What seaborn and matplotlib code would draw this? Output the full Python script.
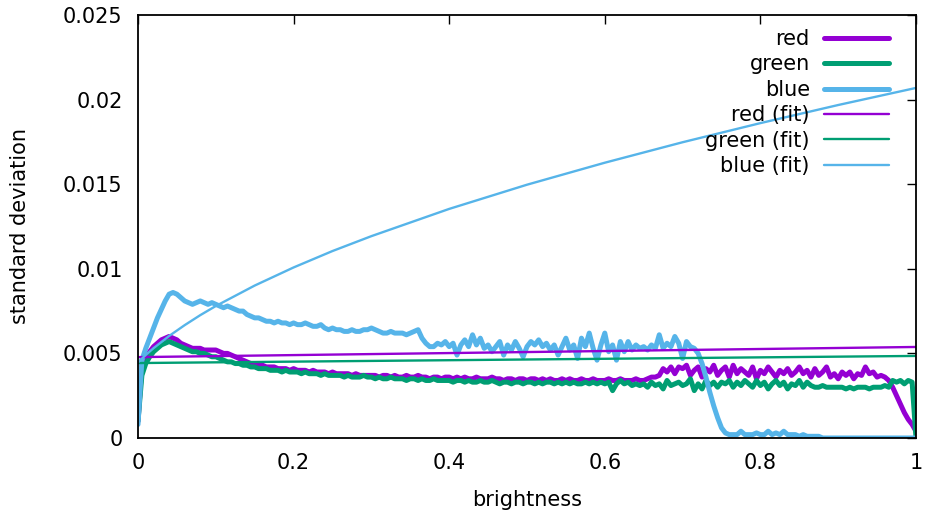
import numpy as np
import pandas as pd
import matplotlib
matplotlib.use("Agg")
import matplotlib.pyplot as plt
import seaborn as sns
from matplotlib.ticker import FuncFormatter, MultipleLocator

# ---------------- data ----------------
brightness = np.round(np.arange(201) * 0.005, 3)

red = [
    0.0010, 0.0043, 0.0048, 0.0051, 0.0054, 0.0056, 0.0058, 0.0059, 0.0060, 0.0059,
    0.0058, 0.0056, 0.0055, 0.0054, 0.0053, 0.0053, 0.0053, 0.0052, 0.0052, 0.0052,
    0.0052, 0.0051, 0.0050, 0.0050, 0.0049, 0.0048, 0.0047, 0.0046, 0.0045, 0.0044,
    0.0044, 0.0043, 0.0043, 0.0042, 0.0042, 0.0042, 0.0041, 0.0041, 0.0041, 0.0040,
    0.0041, 0.0040, 0.0040, 0.0040, 0.0039, 0.0040, 0.0039, 0.0039, 0.0039, 0.0038,
    0.0039, 0.0038, 0.0038, 0.0038, 0.0038, 0.0037, 0.0038, 0.0037, 0.0037, 0.0037,
    0.0037, 0.0037, 0.0036, 0.0037, 0.0037, 0.0036, 0.0037, 0.0036, 0.0036, 0.0037,
    0.0036, 0.0036, 0.0037, 0.0036, 0.0036, 0.0035, 0.0036, 0.0036, 0.0035, 0.0036,
    0.0036, 0.0035, 0.0036, 0.0035, 0.0036, 0.0035, 0.0035, 0.0036, 0.0035, 0.0035,
    0.0035, 0.0036, 0.0035, 0.0035, 0.0034, 0.0035, 0.0035, 0.0034, 0.0035, 0.0035,
    0.0034, 0.0035, 0.0035, 0.0034, 0.0035, 0.0034, 0.0035, 0.0034, 0.0034, 0.0035,
    0.0034, 0.0035, 0.0034, 0.0034, 0.0035, 0.0034, 0.0034, 0.0035, 0.0034, 0.0034,
    0.0034, 0.0035, 0.0034, 0.0034, 0.0035, 0.0034, 0.0034, 0.0034, 0.0035, 0.0034,
    0.0034, 0.0035, 0.0036, 0.0036, 0.0037, 0.0041, 0.0039, 0.0042, 0.0038, 0.0042,
    0.0041, 0.0043, 0.0037, 0.0040, 0.0042, 0.0036, 0.0041, 0.0039, 0.0043, 0.0037,
    0.0040, 0.0042, 0.0036, 0.0043, 0.0038, 0.0041, 0.0039, 0.0037, 0.0042, 0.0035,
    0.0040, 0.0038, 0.0042, 0.0039, 0.0036, 0.0040, 0.0038, 0.0041, 0.0037, 0.0039,
    0.0042, 0.0038, 0.0040, 0.0036, 0.0041, 0.0037, 0.0039, 0.0042, 0.0036, 0.0038,
    0.0035, 0.0039, 0.0037, 0.0039, 0.0035, 0.0038, 0.0037, 0.0042, 0.0038, 0.0039,
    0.0036, 0.0037, 0.0036, 0.0034, 0.0030, 0.0025, 0.0020, 0.0015, 0.0011, 0.0008,
    0.0004,
]

green = [
    0.0010, 0.0037, 0.0044, 0.0048, 0.0051, 0.0053, 0.0055, 0.0056, 0.0057, 0.0056,
    0.0055, 0.0054, 0.0053, 0.0052, 0.0051, 0.0051, 0.0050, 0.0050, 0.0049, 0.0048,
    0.0048, 0.0047, 0.0046, 0.0045, 0.0045, 0.0044, 0.0044, 0.0043, 0.0043, 0.0042,
    0.0042, 0.0041, 0.0041, 0.0041, 0.0040, 0.0040, 0.0040, 0.0039, 0.0040, 0.0039,
    0.0039, 0.0039, 0.0038, 0.0039, 0.0038, 0.0038, 0.0038, 0.0037, 0.0038, 0.0037,
    0.0037, 0.0037, 0.0037, 0.0036, 0.0037, 0.0036, 0.0036, 0.0036, 0.0037, 0.0036,
    0.0036, 0.0035, 0.0036, 0.0035, 0.0035, 0.0036, 0.0035, 0.0035, 0.0035, 0.0034,
    0.0035, 0.0035, 0.0034, 0.0035, 0.0034, 0.0034, 0.0035, 0.0034, 0.0034, 0.0034,
    0.0034, 0.0033, 0.0034, 0.0034, 0.0033, 0.0034, 0.0033, 0.0033, 0.0034, 0.0033,
    0.0033, 0.0034, 0.0033, 0.0032, 0.0033, 0.0033, 0.0032, 0.0033, 0.0033, 0.0032,
    0.0033, 0.0033, 0.0032, 0.0033, 0.0032, 0.0033, 0.0033, 0.0032, 0.0033, 0.0032,
    0.0033, 0.0032, 0.0033, 0.0032, 0.0032, 0.0033, 0.0032, 0.0033, 0.0032, 0.0033,
    0.0032, 0.0033, 0.0028, 0.0032, 0.0034, 0.0032, 0.0033, 0.0031, 0.0032, 0.0031,
    0.0032, 0.0030, 0.0033, 0.0031, 0.0032, 0.0029, 0.0034, 0.0031, 0.0032, 0.0033,
    0.0031, 0.0032, 0.0035, 0.0028, 0.0032, 0.0029, 0.0034, 0.0031, 0.0033, 0.0030,
    0.0033, 0.0032, 0.0034, 0.0030, 0.0033, 0.0031, 0.0034, 0.0032, 0.0030, 0.0034,
    0.0031, 0.0033, 0.0029, 0.0032, 0.0034, 0.0031, 0.0033, 0.0029, 0.0032, 0.0031,
    0.0034, 0.0030, 0.0033, 0.0031, 0.0030, 0.0030, 0.0031, 0.0030, 0.0030, 0.0030,
    0.0030, 0.0030, 0.0029, 0.0030, 0.0029, 0.0030, 0.0030, 0.0030, 0.0029, 0.0030,
    0.0030, 0.0030, 0.0031, 0.0030, 0.0034, 0.0033, 0.0034, 0.0032, 0.0034, 0.0033,
    0.0000,
]

blue = [
    0.0008, 0.0046, 0.0053, 0.0059, 0.0065, 0.0071, 0.0076, 0.0081, 0.0085, 0.0086,
    0.0085, 0.0083, 0.0081, 0.0080, 0.0079, 0.0080, 0.0081, 0.0080, 0.0079, 0.0080,
    0.0079, 0.0078, 0.0077, 0.0078, 0.0077, 0.0076, 0.0075, 0.0075, 0.0073, 0.0072,
    0.0071, 0.0071, 0.0070, 0.0069, 0.0069, 0.0068, 0.0069, 0.0068, 0.0068, 0.0067,
    0.0068, 0.0067, 0.0067, 0.0068, 0.0067, 0.0066, 0.0066, 0.0067, 0.0065, 0.0064,
    0.0065, 0.0064, 0.0064, 0.0063, 0.0063, 0.0064, 0.0063, 0.0063, 0.0064, 0.0064,
    0.0065, 0.0064, 0.0063, 0.0062, 0.0062, 0.0063, 0.0062, 0.0062, 0.0062, 0.0061,
    0.0062, 0.0063, 0.0064, 0.0059, 0.0056, 0.0054, 0.0054, 0.0056, 0.0055, 0.0057,
    0.0054, 0.0056, 0.0049, 0.0055, 0.0058, 0.0054, 0.0061, 0.0055, 0.0059, 0.0053,
    0.0055, 0.0051, 0.0054, 0.0057, 0.0049, 0.0055, 0.0052, 0.0057, 0.0053, 0.0048,
    0.0054, 0.0057, 0.0055, 0.0058, 0.0054, 0.0056, 0.0052, 0.0055, 0.0049, 0.0054,
    0.0059, 0.0052, 0.0055, 0.0047, 0.0059, 0.0054, 0.0062, 0.0053, 0.0046, 0.0055,
    0.0062, 0.0051, 0.0055, 0.0046, 0.0057, 0.0051, 0.0057, 0.0052, 0.0055, 0.0053,
    0.0054, 0.0052, 0.0055, 0.0053, 0.0061, 0.0053, 0.0056, 0.0054, 0.0060, 0.0056,
    0.0047, 0.0057, 0.0054, 0.0053, 0.0050, 0.0044, 0.0036, 0.0027, 0.0019, 0.0012,
    0.0006, 0.0003, 0.0002, 0.0002, 0.0002, 0.0004, 0.0002, 0.0002, 0.0002, 0.0003,
    0.0002, 0.0002, 0.0004, 0.0002, 0.0003, 0.0002, 0.0004, 0.0002, 0.0002, 0.0002,
    0.0001, 0.0002, 0.0001, 0.0001, 0.0001, 0.0001, 0.0000, 0.0000, 0.0000, 0.0000,
    0.0000, 0.0000, 0.0000, 0.0000, 0.0000, 0.0000, 0.0000, 0.0000, 0.0000, 0.0000,
    0.0000, 0.0000, 0.0000, 0.0000, 0.0000, 0.0000, 0.0000, 0.0000, 0.0000, 0.0000,
    0.0000,
]

# fitted curves
fit_x_lin = [0.0, 1.0]
red_fit = [0.00478, 0.00538]
green_fit = [0.00443, 0.00485]

blue_fit_x = [0.0, 0.01, 0.02, 0.04, 0.06, 0.08, 0.1, 0.15, 0.2, 0.25, 0.3,
              0.4, 0.5, 0.6, 0.7, 0.8, 0.9, 1.0]
blue_fit = [0.00447, 0.00491, 0.00531, 0.00603, 0.00667, 0.00726, 0.00780,
            0.00901, 0.01008, 0.01105, 0.01193, 0.01354, 0.01497, 0.01627,
            0.01748, 0.01861, 0.01968, 0.02069]

labels = ["red", "green", "blue", "red (fit)", "green (fit)", "blue (fit)"]
colors = {"red": "#9400d3", "green": "#009e73", "blue": "#56b4e9"}

# ---------------- plotting ----------------
sns.set_theme(style="white")
plt.rcParams["font.family"] = ["DejaVu Sans"]
plt.rcParams["axes.edgecolor"] = "black"
plt.rcParams["text.color"] = "black"
plt.rcParams["axes.labelcolor"] = "black"
plt.rcParams["xtick.color"] = "black"
plt.rcParams["ytick.color"] = "black"

fig = plt.figure(figsize=(9.27, 5.13), dpi=100)
ax = fig.add_axes([138 / 927, 1 - 438 / 513, 778 / 927, 423 / 513])

for lab, vals in zip(labels[:3], [red, green, blue]):
    sns.lineplot(x=brightness, y=vals, color=colors[lab], lw=3.6,
                 label=lab, ax=ax, estimator=None, sort=False)

for lab, xs, vals in zip(labels[3:], [fit_x_lin, fit_x_lin, blue_fit_x],
                         [red_fit, green_fit, blue_fit]):
    sns.lineplot(x=xs, y=vals, color=colors[lab.split()[0]], lw=1.7,
                 label=lab, ax=ax, estimator=None, sort=False)

ax.set_xlim(0, 1)
ax.set_ylim(0, 0.025)
ax.xaxis.set_major_locator(MultipleLocator(0.2))
ax.yaxis.set_major_locator(MultipleLocator(0.005))
fmt = FuncFormatter(lambda v, p: f"{v:g}")
ax.xaxis.set_major_formatter(fmt)
ax.yaxis.set_major_formatter(fmt)

ax.tick_params(direction="in", length=6.5, width=1.0, top=True, right=True,
               labelsize=15, pad=11, colors="black")
for s in ax.spines.values():
    s.set_linewidth(1.3)
    s.set_color("black")

ax.set_xlabel("brightness", fontsize=15, labelpad=12, color="black")
ax.set_ylabel("standard deviation", fontsize=15, labelpad=24, color="black")

leg = ax.legend(loc="upper right", bbox_to_anchor=((889 - 138) / 778, 0.967),
                frameon=False, markerfirst=False, fontsize=15, borderaxespad=0,
                borderpad=0, labelspacing=0.26, handlelength=3.1,
                handletextpad=0.7)
for t in leg.get_texts():
    t.set_color("black")

fig.savefig("out.png", dpi=100)
